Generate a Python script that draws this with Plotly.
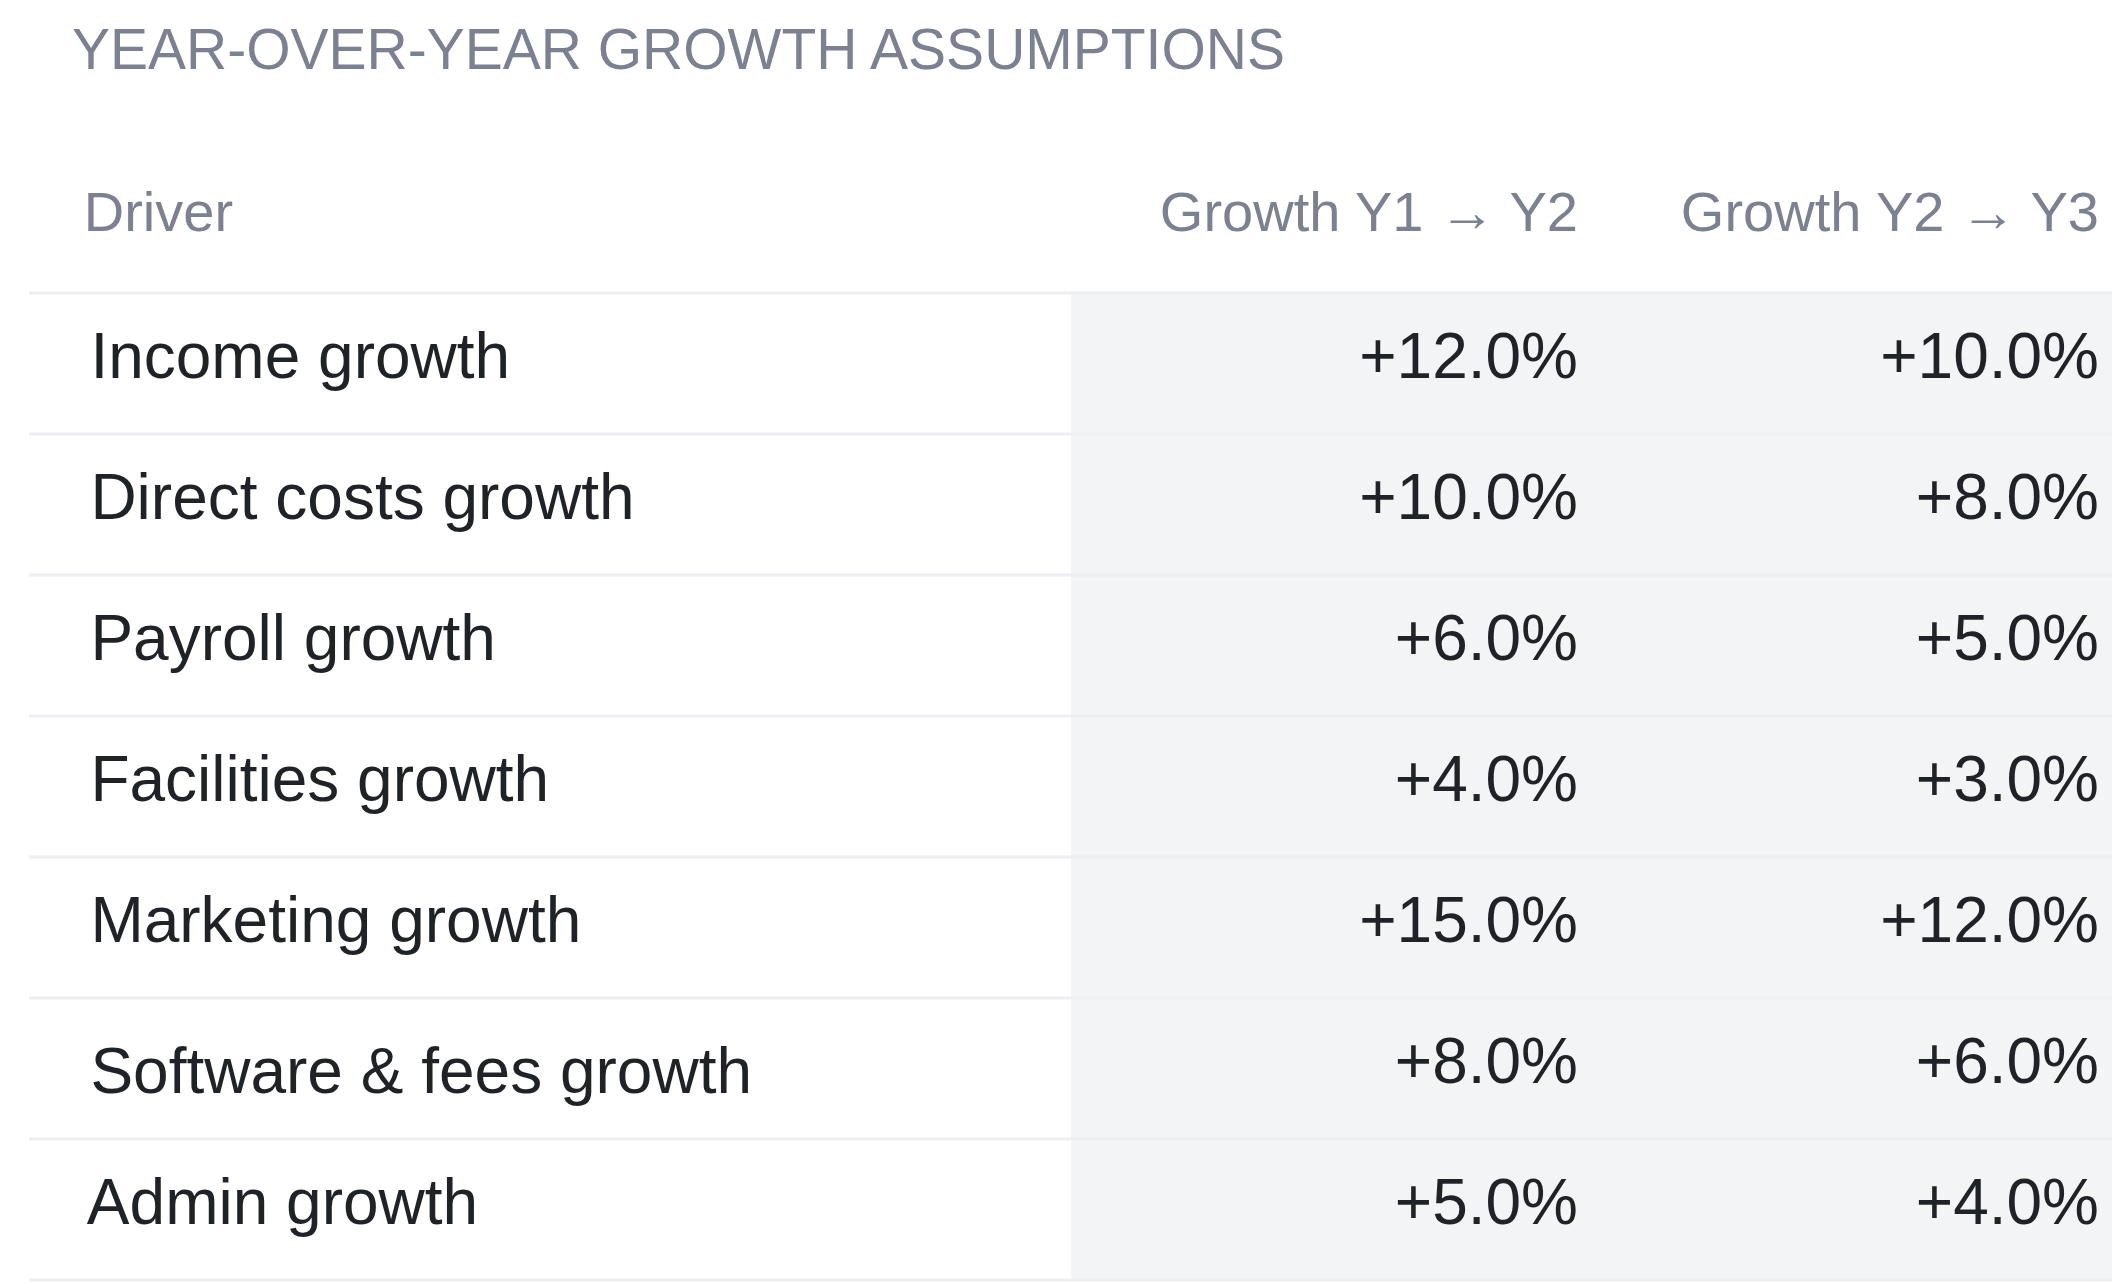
import plotly.graph_objects as go

drivers = ["Income growth", "Direct costs growth", "Payroll growth", "Facilities growth",
           "Marketing growth", "Software & fees growth", "Admin growth"]
growth_y1_y2 = [12.0, 10.0, 6.0, 4.0, 15.0, 8.0, 5.0]
growth_y2_y3 = [10.0, 8.0, 5.0, 3.0, 12.0, 6.0, 4.0]
headers = ["Driver", "Growth Y1 → Y2", "Growth Y2 → Y3"]

W, H = 2120, 1284
ROW = 141
TOP_LINE = 285
fmt = lambda v: f"+{v:.1f}%"
pad = "\u2007 "
px = lambda y: 1 - y / H

fig = go.Figure(go.Table(
    domain=dict(x=[21/W, 2099/W], y=[0, px(173)]),
    columnwidth=[1042, 515, 521],
    header=dict(values=[pad + headers[0], headers[1], headers[2]],
                align=["left", "right", "right"], height=ROW,
                fill_color="rgba(0,0,0,0)", line=dict(width=0, color="rgba(0,0,0,0)"),
                font=dict(family="Liberation Sans, Arial", size=56, color="#7b8190")),
    cells=dict(values=[[pad + d for d in drivers], [fmt(v) for v in growth_y1_y2], [fmt(v) for v in growth_y2_y3]],
               align=["left", "right", "right"], height=ROW,
               fill_color="rgba(0,0,0,0)", line=dict(width=0, color="rgba(0,0,0,0)"),
               font=dict(family="Liberation Sans, Arial", size=64, color="#1f2328")),
))
shapes = [dict(type="rect", xref="paper", yref="paper", x0=1063/W, x1=2106/W,
               y0=px(TOP_LINE + ROW*len(drivers)), y1=px(TOP_LINE),
               fillcolor="#f3f4f6", line=dict(width=0), layer="below")]
for k in range(len(drivers) + 1):
    y = TOP_LINE + ROW*k
    shapes.append(dict(type="line", xref="paper", yref="paper", x0=21/W, x1=2106/W,
                       y0=px(y), y1=px(y), line=dict(color="#eceef1", width=3), layer="below"))
fig.add_annotation(text="YEAR-OVER-YEAR GROWTH ASSUMPTIONS", xref="paper", yref="paper",
                   x=62/W, y=px(41), xanchor="left", yanchor="middle", showarrow=False,
                   font=dict(family="Liberation Sans, Arial", size=57, color="#7b8190"))
fig.update_layout(width=W, height=H, margin=dict(l=0, r=0, t=0, b=0), shapes=shapes,
                  paper_bgcolor="white", plot_bgcolor="white")
fig.write_html("out.html")
